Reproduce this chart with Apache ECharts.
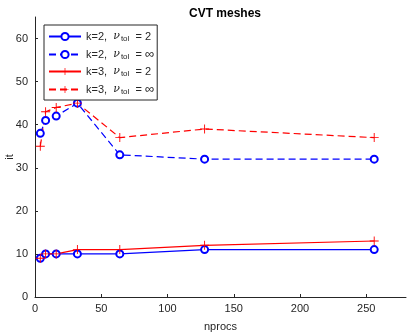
<!DOCTYPE html>
<html>
<head>
<meta charset="utf-8">
<script src="https://cdn.jsdelivr.net/npm/echarts@6/dist/echarts.min.js"></script>
<style>
  html, body { margin: 0; padding: 0; background: #fff; }
  #chart { width: 407px; height: 333px; }
</style>
</head>
<body>
<div id="chart"></div>
<script>
// data
const nprocs = [4, 8, 16, 32, 64, 128, 256];
const k2tol2 = [9, 10, 10, 10, 10, 11, 11];
const k2tolInf = [38, 41, 42, 45, 33, 32, 32];
const k3tol2 = [9, 10, 10, 11, 11, 12, 13];
const k3tolInf = [35, 43, 44, 45, 37, 39, 37];
const xTicks = [0, 50, 100, 150, 200, 250];
const yTicks = [0, 10, 20, 30, 40, 50, 60];

const BLUE = '#0000ff';
const RED = '#ff0000';
const AXIS = '#262626';
const PLUS = 'path://M4.5,0 H5.5 V4.5 H10 V5.5 H5.5 V10 H4.5 V5.5 H0 V4.5 H4.5 Z';

function pairs(ys) {
  return nprocs.map((x, i) => [x, ys[i]]);
}

function mkSeries(name, ys, color, dashed, plus) {
  return {
    name: name,
    type: 'line',
    data: pairs(ys),
    symbol: plus ? PLUS : 'emptyCircle',
    symbolSize: plus ? 9 : 7,
    showAllSymbol: true,
    animation: false,
    lineStyle: { color: color, width: 1.2, type: dashed ? [7, 4] : 'solid' },
    itemStyle: { color: color, borderColor: color, borderWidth: plus ? 0 : 1.3 }
  };
}

const chart = echarts.init(document.getElementById('chart'));
const option = {
  backgroundColor: '#fff',
  textStyle: { fontFamily: 'Liberation Sans, Arial, sans-serif' },
  title: {
    text: 'CVT meshes',
    left: 220,
    textAlign: 'center',
    top: 3,
    textStyle: { fontSize: 12, fontWeight: 'bold', color: '#000' }
  },
  grid: { left: 35, right: 1, top: 17, bottom: 36, outerBoundsMode: 'none', containLabel: false },
  legend: {
    orient: 'vertical',
    left: 44,
    top: 25,
    padding: [6, 3, 4, 4],
    itemWidth: 32,
    itemHeight: 9,
    itemGap: 5,
    backgroundColor: '#fff',
    borderColor: '#262626',
    borderWidth: 1,
    borderRadius: 0,
    textStyle: {
      color: AXIS,
      fontSize: 11,
      rich: {
        a: { fontSize: 11, color: AXIS },
        m: { fontSize: 13, color: AXIS },
        n: { fontSize: 11, color: AXIS, fontStyle: 'italic', fontFamily: 'DejaVu Serif' },
        s: { fontSize: 8, color: AXIS, padding: [5, 0, 0, 1] }
      }
    },
    formatter: function (name) {
      const parts = name.split('|');
      const v = parts[1] === '∞' ? '{m|∞}' : '{a|' + parts[1] + '}';
      return '{a|' + parts[0] + '  }{n|ν}{s|tol}{a|  = }' + v;
    },
    data: ['k=2,|2', 'k=2,|∞', 'k=3,|2', 'k=3,|∞']
  },
  xAxis: {
    type: 'value',
    min: 0,
    max: 280,
    name: 'nprocs',
    nameLocation: 'middle',
    nameGap: 24,
    nameMoveOverlap: false,
    nameTextStyle: { fontSize: 11, color: AXIS },
    axisLine: { lineStyle: { color: AXIS, width: 1 } },
    axisTick: { inside: true, length: 3, customValues: xTicks, lineStyle: { color: AXIS } },
    axisLabel: { customValues: xTicks, fontSize: 11, color: AXIS, margin: 6 },
    splitLine: { show: false }
  },
  yAxis: {
    type: 'value',
    min: 0,
    max: 65,
    name: 'it',
    nameLocation: 'middle',
    nameGap: 20,
    nameMoveOverlap: false,
    nameTextStyle: { fontSize: 11, color: AXIS },
    axisLine: { show: true, lineStyle: { color: AXIS, width: 1 } },
    axisTick: { show: true, inside: true, length: 3, customValues: yTicks, lineStyle: { color: AXIS } },
    axisLabel: { customValues: yTicks, fontSize: 11, color: AXIS, margin: 7 },
    splitLine: { show: false }
  },
  series: [
    mkSeries('k=2,|2', k2tol2, BLUE, false, false),
    mkSeries('k=2,|∞', k2tolInf, BLUE, true, false),
    mkSeries('k=3,|2', k3tol2, RED, false, true),
    mkSeries('k=3,|∞', k3tolInf, RED, true, true)
  ]
};
chart.setOption(option);
</script>
</body>
</html>
